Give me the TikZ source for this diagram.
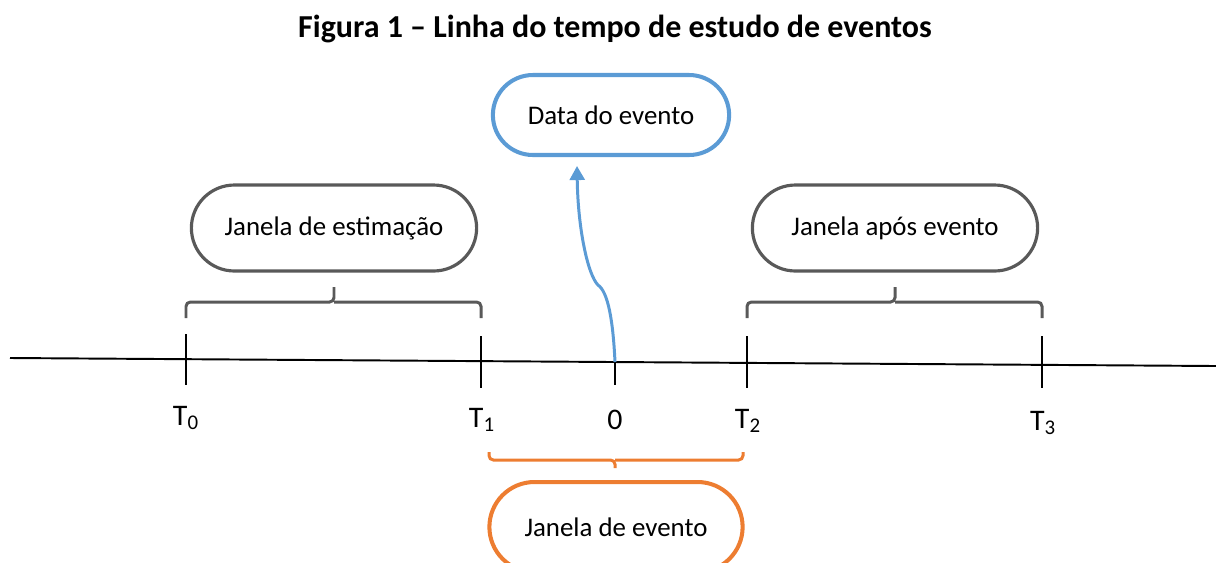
\documentclass[tikz,border=0pt]{standalone}
\usepackage{fontspec}
\setmainfont{Carlito}
\usetikzlibrary{arrows.meta,shapes.misc}
\definecolor{cinza}{HTML}{595959}
\definecolor{azul}{HTML}{5B9BD5}
\definecolor{laranja}{HTML}{ED7D31}
\tikzset{
  janela/.style={rounded rectangle, draw=#1, line width=1.8pt,
    minimum width=5.94cm, minimum height=1.72cm, font=\fontsize{15.3}{17}\selectfont},
  chave/.style={draw=#1, line width=1.7pt, rounded corners=2.5pt},
  marca/.style={draw=black, line width=0.8pt},
  rotulo/.style={font=\fontsize{17}{19}\selectfont, inner sep=0pt}
}
\begin{document}
\begin{tikzpicture}[x=0.02cm, y=-0.02cm]
        \useasboundingbox (0,0) rectangle (1216,562);
        \node[font=\bfseries\fontsize{18.2}{20}\selectfont] (titulo) at (615,29) {Figura 1 – Linha do tempo de estudo de eventos};
        % linha do tempo
        \coordinate (ini) at (10,358);
        \coordinate (fim) at (1216,366);
        \draw[line width=1.1pt] (ini) -- (fim);
        \draw[marca] (186,334) -- (186,385);
        \draw[marca] (481,336) -- (481,388);
        \draw[marca] (747,336) -- (747,388);
        \draw[marca] (1042,336) -- (1042,388);
        \draw[line width=1.5pt] (615,362) coordinate (zero) -- (615,385);
        \node[rotulo] (t0) at (186,418) {T\textsubscript{0}};
        \node[rotulo] (t1) at (482,420) {T\textsubscript{1}};
        \node[rotulo] (t2) at (748,421) {T\textsubscript{2}};
        \node[rotulo] (t3) at (1043,423) {T\textsubscript{3}};
        \node[rotulo] (t00) at (615,420) {0};
        % janelas
        \node[janela=cinza] (estim) at (334,228) {Janela de estimação};
        \node[janela=cinza] (apos) at (895,228) {Janela após evento};
        \node[janela=azul, line width=2.3pt, minimum width=4.96cm, minimum height=1.6cm] (data) at (611,115) {Data do evento};
        \node[janela=laranja, line width=2.3pt, minimum width=5.3cm, minimum height=1.8cm] (evento) at (616,527) {Janela de evento};
        % chaves
        \draw[chave=cinza] (186,318) |- (334,302) -- (334,287);
        \draw[chave=cinza] (481,318) |- (334,302);
        \draw[chave=cinza] (747,318) |- (895,302) -- (895,287);
        \draw[chave=cinza] (1042,318) |- (895,302);
        \draw[chave=laranja] (489,452) |- (615,460) -- (615,468);
        \draw[chave=laranja] (743,452) |- (615,460);
        % seta
        \coordinate (topo) at (577,166);
        \draw[azul, line width=1.7pt, -{Triangle[width=8.5pt,length=8pt]}]
          (zero) .. controls (613,320) and (608,292) .. (598,285)
          .. controls (588,275) and (578,230) .. (topo);
    \end{tikzpicture}
\end{document}
